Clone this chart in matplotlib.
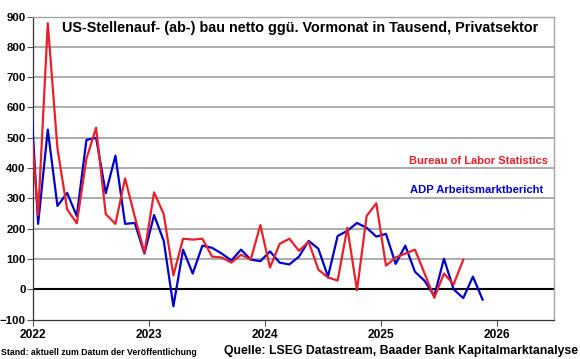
import numpy as np
import matplotlib.pyplot as plt

# monthly changes in thousands, Dec 2021 .. (mid-month points)
start_year, start_month = 2021, 12

bls = [648, 245, 878, 465, 264, 218, 431, 533, 248, 216, 366, 240, 121,
       320, 248, 46, 167, 164, 167, 108, 105, 88, 114, 98, 212,
       72, 150, 167, 127, 157, 65, 39, 29, 203, -3, 242, 284,
       78, 105, 118, 131, 52, -28, 52, 16, 98]

adp = [767, 216, 527, 275, 318, 242, 493, 500, 317, 441, 216, 219, 118,
       245, 160, -56, 131, 52, 144, 137, 118, 95, 131, 98, 93,
       125, 88, 82, 108, 160, 134, 42, 176, 193, 219, 203, 174,
       183, 84, 144, 58, 28, -22, 101, 0, -29, 42, -34]

years = [2022, 2023, 2024, 2025, 2026]
title = "US-Stellenauf- (ab-) bau netto ggü. Vormonat in Tausend, Privatsektor"

RED = "#e8202a"
BLUE = "#0000cc"
GRAY = "#a6a6a6"


def month_pos(n):
    idx = np.arange(n)
    return start_year + (start_month - 1 + idx + 0.5) / 12


plt.rcParams["font.family"] = ["Liberation Sans", "DejaVu Sans"]
plt.rcParams["font.weight"] = "bold"

fig = plt.figure(figsize=(5.8, 3.59), dpi=100)
ax = fig.add_axes([0.0574, 0.1097, 0.8976, 0.8441])

for v in range(100, 900, 100):
    ax.axhline(v, color=GRAY, lw=1.3, zorder=1)
ax.axhline(0, color="black", lw=1.5, zorder=1)

ax.plot(month_pos(len(adp)), adp, color=BLUE, lw=1.6, zorder=3)
ax.plot(month_pos(len(bls)), bls, color=RED, lw=1.6, zorder=4)

ax.set_xlim(2022.0, 2026.49)
ax.set_ylim(-100, 900)
ax.set_yticks(range(-100, 1000, 100))
ax.set_xticks(years)
ax.set_xticklabels([str(y) for y in years])
ax.tick_params(axis="both", direction="out", length=4, width=0.8,
               labelsize=8.6, color="#555555")
ax.tick_params(axis="y", pad=1.5, labelsize=8.2)
ax.tick_params(axis="x", pad=3)

for s in ["top", "right"]:
    ax.spines[s].set_color(GRAY)
    ax.spines[s].set_linewidth(1.0)
for s in ["left", "bottom"]:
    ax.spines[s].set_color("#333333")
    ax.spines[s].set_linewidth(0.9)

fig.text(0.107, 0.921, title, fontsize=10.4, fontweight="bold",
         va="center", ha="left")
fig.text(0.945, 0.552, "Bureau of Labor Statistics", color=RED,
         fontsize=8, fontweight="bold", ha="right", va="center")
fig.text(0.937, 0.470, "ADP Arbeitsmarktbericht", color=BLUE,
         fontsize=8.1, fontweight="bold", ha="right", va="center")

fig.text(0.002, 0.017, "Stand: aktuell zum Datum der Veröffentlichung",
         fontsize=6.3, fontweight="bold", ha="left", va="center")
fig.text(0.997, 0.022, "Quelle: LSEG Datastream, Baader Bank Kapitalmarktanalyse",
         fontsize=8.8, fontweight="bold", ha="right", va="center")

fig.savefig("out.png", dpi=100)
